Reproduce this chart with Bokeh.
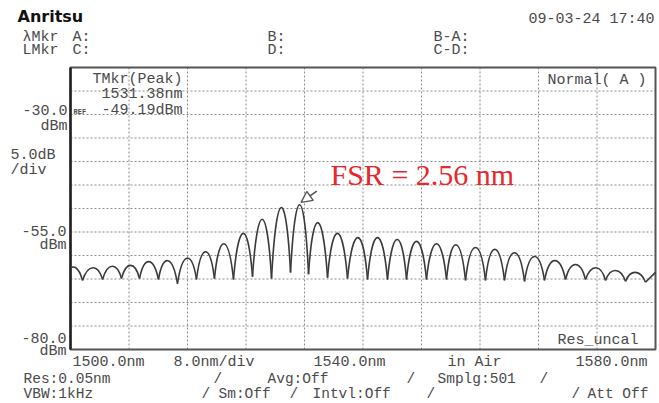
import numpy as np
from bokeh.plotting import figure
from bokeh.models import Label, Range1d, Arrow, NormalHead
from bokeh.embed import file_html
from bokeh.resources import INLINE

# ---------------- data ----------------
# fringe troughs (start point of trace + minima), wavelength in nm, level in dBm
trough_nm = [1500.00, 1501.64, 1504.38, 1506.97, 1509.44, 1512.03, 1514.63, 1517.23,
             1519.69, 1522.29, 1524.89, 1527.49, 1530.09, 1532.55, 1535.15, 1537.88,
             1540.62, 1543.35, 1545.95, 1548.68, 1551.42, 1554.02, 1556.75, 1559.35,
             1562.09, 1564.82, 1567.69, 1570.43, 1573.16, 1575.90, 1578.63]
trough_dbm = [-62.8, -65.3, -65.1, -64.9, -64.9, -65.1, -66.0, -65.1,
              -64.9, -65.1, -64.5, -64.9, -63.6, -64.0, -64.7, -64.9,
              -65.1, -65.1, -65.1, -65.1, -65.1, -65.3, -65.3, -65.3,
              -65.5, -65.3, -65.1, -65.1, -65.3, -65.5, -65.7]
# fringe maxima
peak_nm = [1500.55, 1503.15, 1505.74, 1508.21, 1510.67, 1513.26, 1516.00, 1518.46,
           1520.92, 1523.66, 1526.26, 1528.85, 1531.38, 1533.78, 1536.51, 1539.38,
           1541.98, 1544.72, 1547.32, 1550.05, 1552.65, 1555.38, 1557.98, 1560.72,
           1563.45, 1566.19, 1569.06, 1571.93, 1574.53, 1577.26]
peak_dbm = [-62.6, -62.6, -62.3, -62.1, -61.3, -61.1, -60.6, -59.2,
            -57.5, -55.3, -52.3, -49.8, -49.19, -53.0, -55.3, -56.2,
            -56.2, -56.6, -57.0, -57.5, -57.7, -58.3, -58.7, -59.4,
            -60.2, -61.1, -61.9, -62.6, -63.2, -63.6]
# end of trace
end_nm = [1578.63, 1580.0]
end_dbm = [-65.7, -63.6]

# screen span (start/stop wavelength, bottom/top level) and grid divisions
span_nm = [1500.0, 1580.0]
span_dbm = [-80.0, -20.0]
x_grid_nm = [1508, 1516, 1524, 1532, 1540, 1548, 1556, 1564, 1572]
y_grid_dbm = [-25, -30, -35, -40, -45, -50, -55, -60, -65, -70, -75]

W, H = 659, 403
FL, FR, FT, FB = 70, 655, 67, 349  # screen frame in page pixels


def X(px):
    return span_nm[0] + (px - FL) * (span_nm[1] - span_nm[0]) / (FR - FL)


def Y(py):
    return span_dbm[1] - (py - FT) * (span_dbm[1] - span_dbm[0]) / (FB - FT)


p = figure(width=W, height=H, output_backend="svg", toolbar_location=None,
           x_range=Range1d(X(0), X(W)), y_range=Range1d(Y(H), Y(0)),
           x_axis_type=None, y_axis_type=None,
           min_border_left=0, min_border_right=0, min_border_top=0, min_border_bottom=0)
p.title.visible = False
p.outline_line_color = None
p.background_fill_color = "white"
p.border_fill_color = "white"

# dotted division lines
gx = np.array(x_grid_nm, dtype=float)
gy = np.array(y_grid_dbm, dtype=float)
grid_style = dict(line_color="#8c8c8c", line_dash="2 2", line_width=1)
p.segment(x0=gx, y0=np.full(gx.size, span_dbm[0]), x1=gx, y1=np.full(gx.size, span_dbm[1]), **grid_style)
p.segment(x0=np.full(gy.size, span_nm[0]), y0=gy, x1=np.full(gy.size, span_nm[1]), y1=gy, **grid_style)

# screen frame
p.quad(left=[span_nm[0]], right=[span_nm[1]], bottom=[span_dbm[0]], top=[span_dbm[1]],
       fill_color=None, line_color="#555555", line_width=2)
p.segment(x0=[span_nm[0]], y0=[span_dbm[0]], x1=[span_nm[0]], y1=[span_dbm[1]],
          line_color="#222222", line_width=2.5)

# ---------------- trace: one arch per fringe ----------------
tn = np.array(trough_nm)
td = np.array(trough_dbm)
pn = np.array(peak_nm)
pd_ = np.array(peak_dbm)
x0, x1 = tn[:-1], tn[1:]
y0, y1 = td[:-1], td[1:]
c = (pd_ - (y0 + y1) / 8.0) / 0.75
f = 0.5
cx0 = x0 + f * (pn - x0)
cx1 = x1 - f * (x1 - pn)
trace_color = "#3a3a3a"
p.bezier(x0=x0, y0=y0, x1=x1, y1=y1, cx0=cx0, cy0=c, cx1=cx1, cy1=c,
         line_color=trace_color, line_width=1.6)
p.line(end_nm, end_dbm, line_color=trace_color, line_width=1.6)

# marker arrow at the peak
imax = int(np.argmax(pd_))
p.add_layout(Arrow(end=NormalHead(size=11, fill_color="white", line_color="#555", line_width=1.4),
                   x_start=pn[imax] + 2.3, y_start=pd_[imax] + 2.9,
                   x_end=pn[imax] + 0.15, y_end=pd_[imax] + 0.5,
                   line_color="#555", line_width=1.6))

MONO = "Liberation Mono"
GRAY = "#4a4a4a"


def lab(text, px, py, size=15, color=GRAY, align="left", font=MONO, style="normal"):
    p.add_layout(Label(x=X(px), y=Y(py), text=text, text_font=font,
                       text_font_size=f"{size}px", text_color=color,
                       text_align=align, text_baseline="middle",
                       text_font_style=style))


# header
lab("Anritsu", 17, 16, size=16, color="#111", font="DejaVu Sans", style="bold")
lab("09-03-24 17:40", 528, 19)
lab("λMkr", 22, 37)
lab("A:", 72, 37)
lab("B:", 267, 37)
lab("B-A:", 433, 37)
lab("LMkr", 22, 50)
lab("C:", 72, 50)
lab("D:", 267, 50)
lab("C-D:", 433, 50)

# inside frame
lab("TMkr(Peak)", 182, 79, align="right")
lab("1531.38nm", 182, 94, align="right")
lab("-49.19dBm", 182, 110, align="right")
lab("REF", 73, 111, size=7, style="bold")
lab("Normal( A )", 547, 80)
lab("Res_uncal", 557, 340)

# left scale texts
lab("-30.0", 67, 109, align="right")
lab("dBm", 67, 126, align="right")
lab("5.0dB", 10, 155)
lab("/div", 10, 170)
lab("-55.0", 66, 230, align="right")
lab("dBm", 66, 245, align="right")
lab("-80.0", 66, 337, align="right")
lab("dBm", 66, 351, align="right")

# bottom texts
lab("1500.0nm", 72, 362)
lab("8.0nm/div", 173, 362)
lab("1540.0nm", 313, 362)
lab("in Air", 447, 362)
lab("1580.0nm", 575, 362)
lab("Res:0.05nm", 23, 378, size=14.5)
lab("/", 213, 378, size=14.5)
lab("Avg:Off", 267, 378, size=14.5)
lab("/", 406, 378, size=14.5)
lab("Smplg:501", 437, 378, size=14.5)
lab("/", 539, 378, size=14.5)
lab("VBW:1kHz", 23, 393, size=14.5)
lab("/", 201, 393, size=14.5)
lab("Sm:Off", 218, 393, size=14.5)
lab("/", 289, 393, size=14.5)
lab("Intvl:Off", 312, 393, size=14.5)
lab("/", 426, 393, size=14.5)
lab("/", 571, 393, size=14.5)
lab("Att Off", 587, 393, size=14.5)

# annotation
lab("FSR = 2.56 nm", 330, 174, size=30, color="#e8262d", font="Liberation Serif")

open("out.html", "w").write(file_html(p, INLINE))
